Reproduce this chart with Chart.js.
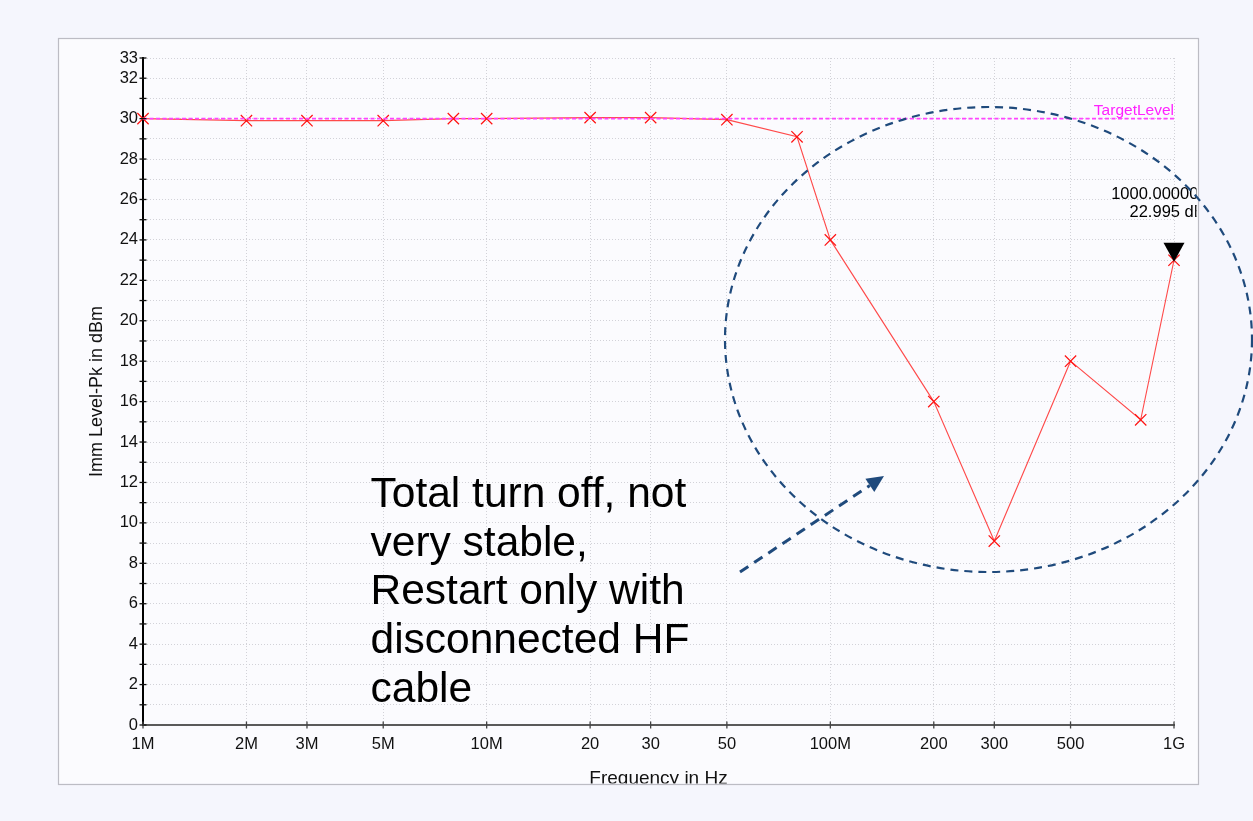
<!DOCTYPE html>
<html>
<head>
<meta charset="utf-8">
<script src="https://cdn.jsdelivr.net/npm/chart.js@4.4.1/dist/chart.umd.min.js"></script>
<style>
html,body{margin:0;padding:0;background:#f5f6fd;overflow:hidden}
canvas{display:block}
</style>
</head>
<body>
<canvas id="c" width="1253" height="821"></canvas>
<script>
// ---------------- data ----------------
const frequencies = [1e6, 2e6, 3e6, 5e6, 8e6, 10e6, 20e6, 30e6, 50e6, 80e6, 100e6, 200e6, 300e6, 500e6, 800e6, 1e9];
const levels      = [30.0, 29.9, 29.9, 29.9, 30.0, 30.0, 30.05, 30.05, 29.95, 29.1, 24.0, 16.0, 9.1, 18.0, 15.1, 22.995];
const targetFrequencies = [1e6, 1e9];
const targetLevels      = [30, 30];
const targetName = 'TargetLevel';
const markerFrequency = 1e9;
const markerLevel = 22.995;
const markerLines = ['1000.00000 MHz', '22.995 dBm'];
const xTickValues = [1e6, 2e6, 3e6, 5e6, 1e7, 2e7, 3e7, 5e7, 1e8, 2e8, 3e8, 5e8, 1e9];
const xTickLabels = ['1M', '2M', '3M', '5M', '10M', '20', '30', '50', '100M', '200', '300', '500', '1G'];
const yTickValues = [0,1,2,3,4,5,6,7,8,9,10,11,12,13,14,15,16,17,18,19,20,21,22,23,24,25,26,27,28,29,30,31,32,33];
const yTickLabels = ['0','','2','','4','','6','','8','','10','','12','','14','','16','','18','','20','','22','','24','','26','','28','','30','','32','33'];
const xTitle = 'Frequency in Hz';
const yTitle = 'Imm Level-Pk in dBm';
const noteLines = ['Total turn off, not', 'very stable,', 'Restart only with', 'disconnected HF', 'cable'];

// ---------------- styling ----------------
const FONT = '"Liberation Sans", Arial, Helvetica, sans-serif';
const PANEL = {left: 58, top: 38, right: 1198, bottom: 785};
const OUTER_BG = '#f5f6fd';
const PANEL_BG = '#fbfbfe';
const GRID = '#d2d2d8';
const NAVY = '#1f4a7c';

const slidePlugin = {
  id: 'slide',
  beforeDraw(chart) {
    const {ctx, width, height} = chart;
    ctx.save();
    ctx.fillStyle = OUTER_BG;
    ctx.fillRect(0, 0, width, height);
    ctx.fillStyle = PANEL_BG;
    ctx.fillRect(PANEL.left, PANEL.top, PANEL.right - PANEL.left, PANEL.bottom - PANEL.top);
    ctx.restore();
  },
  afterDatasetsDraw(chart) {
    const {ctx} = chart;
    const x = chart.scales.x, y = chart.scales.y;
    ctx.save();
    // crossing tick marks
    ctx.lineWidth = 1.3;
    ctx.strokeStyle = '#111';
    y.ticks.forEach(t => {
      const py = y.getPixelForValue(t.value);
      ctx.beginPath(); ctx.moveTo(x.left - 3.5, py); ctx.lineTo(x.left + 3.5, py); ctx.stroke();
    });
    ctx.strokeStyle = '#444';
    x.ticks.forEach(t => {
      const px = x.getPixelForValue(t.value);
      ctx.beginPath(); ctx.moveTo(px, y.bottom - 3.5); ctx.lineTo(px, y.bottom + 3.5); ctx.stroke();
    });
    // target label
    ctx.fillStyle = '#ff22ff';
    ctx.font = '15.5px ' + FONT;
    ctx.textAlign = 'right';
    ctx.textBaseline = 'alphabetic';
    ctx.fillText(targetName, x.getPixelForValue(targetFrequencies[1]), y.getPixelForValue(targetLevels[1]) - 4);
    // marker triangle
    const mx = x.getPixelForValue(markerFrequency), my = y.getPixelForValue(markerLevel);
    ctx.fillStyle = '#000';
    ctx.beginPath();
    ctx.moveTo(mx, my + 1.5);
    ctx.lineTo(mx - 10.5, my - 17.5);
    ctx.lineTo(mx + 10.5, my - 17.5);
    ctx.closePath();
    ctx.fill();
    // marker readout, clipped by the panel
    ctx.beginPath();
    ctx.rect(PANEL.left, PANEL.top, PANEL.right - PANEL.left - 1.5, PANEL.bottom - PANEL.top);
    ctx.clip();
    ctx.font = '16.5px ' + FONT;
    ctx.textAlign = 'center';
    ctx.fillText(markerLines[0], mx, my - 61.2);
    ctx.fillText(markerLines[1], mx, my - 43.2);
    ctx.restore();
  },
  afterDraw(chart) {
    const {ctx, width, height} = chart;
    ctx.save();
    // outer area below the panel (clips axis title)
    ctx.fillStyle = OUTER_BG;
    ctx.fillRect(0, PANEL.bottom - 1.5, width, height - PANEL.bottom + 1.5);
    // panel border
    ctx.strokeStyle = '#bcbcc4';
    ctx.lineWidth = 1.2;
    ctx.strokeRect(PANEL.left + 0.5, PANEL.top + 0.5, PANEL.right - PANEL.left, PANEL.bottom - PANEL.top - 1);
    // dashed ellipse
    ctx.strokeStyle = NAVY;
    ctx.lineWidth = 2.2;
    ctx.setLineDash([8, 6]);
    ctx.beginPath();
    ctx.ellipse(988.5, 339.5, 263.5, 232.5, 0, 0, Math.PI * 2);
    ctx.stroke();
    // dashed arrow
    const ax0 = 740, ay0 = 572, ax1 = 884, ay1 = 476;
    const ang = Math.atan2(ay1 - ay0, ax1 - ax0);
    const headLen = 17, headW = 8;
    const bx = ax1 - Math.cos(ang) * headLen, by = ay1 - Math.sin(ang) * headLen;
    ctx.lineWidth = 3;
    ctx.setLineDash([10, 7]);
    ctx.beginPath(); ctx.moveTo(ax0, ay0); ctx.lineTo(bx, by); ctx.stroke();
    ctx.setLineDash([]);
    ctx.fillStyle = NAVY;
    ctx.beginPath();
    ctx.moveTo(ax1, ay1);
    ctx.lineTo(bx + Math.sin(ang) * headW, by - Math.cos(ang) * headW);
    ctx.lineTo(bx - Math.sin(ang) * headW, by + Math.cos(ang) * headW);
    ctx.closePath();
    ctx.fill();
    // note text
    ctx.fillStyle = '#000';
    ctx.font = '42.5px ' + FONT;
    ctx.textAlign = 'left';
    ctx.textBaseline = 'alphabetic';
    noteLines.forEach((l, i) => ctx.fillText(l, 370.5, 506.7 + i * 48.8));
    ctx.restore();
  }
};

new Chart(document.getElementById('c'), {
  type: 'line',
  data: {
    datasets: [
      {
        label: targetName,
        data: targetFrequencies.map((f, i) => ({x: f, y: targetLevels[i]})),
        borderColor: '#ff44ff',
        borderWidth: 1.6,
        borderDash: [4, 2.5],
        pointRadius: 0,
        clip: false,
        order: 0
      },
      {
        label: 'Imm Level-Pk',
        data: frequencies.map((f, i) => ({x: f, y: levels[i]})),
        borderColor: '#ff4a4a',
        borderWidth: 1.1,
        pointStyle: 'crossRot',
        pointRadius: 8,
        pointBorderColor: '#ff1010',
        pointBorderWidth: 1.2,
        pointBackgroundColor: '#ff1010',
        tension: 0,
        clip: false,
        order: 1
      }
    ]
  },
  options: {
    responsive: false,
    animation: false,
    devicePixelRatio: 1,
    layout: {padding: {left: 0, right: 79, top: 58, bottom: 0}},
    plugins: {legend: {display: false}, tooltip: {enabled: false}},
    scales: {
      x: {
        type: 'logarithmic',
        min: xTickValues[0],
        max: xTickValues[xTickValues.length - 1],
        afterBuildTicks: s => { s.ticks = xTickValues.map(v => ({value: v})); },
        afterFit: s => { s.height = 96; },
        ticks: {
          autoSkip: false, maxRotation: 0, minRotation: 0, padding: 10,
          color: '#111', font: {family: FONT, size: 16.5},
          callback: (v, i) => xTickLabels[i]
        },
        grid: {color: GRID, lineWidth: 1, drawTicks: false},
        border: {display: true, color: '#5a5a5a', width: 2, dash: [1, 2]},
        title: {display: true, text: xTitle, color: '#111', font: {family: FONT, size: 19}, padding: {top: 0, bottom: 30.4}}
      },
      y: {
        type: 'linear',
        min: 0,
        max: 33,
        afterBuildTicks: s => { s.ticks = yTickValues.map(v => ({value: v})); },
        afterFit: s => { s.width = 143; },
        ticks: {
          autoSkip: false, padding: 5,
          color: '#111', font: {family: FONT, size: 16.5},
          callback: (v, i) => yTickLabels[i]
        },
        grid: {color: GRID, lineWidth: 1, drawTicks: false},
        border: {display: true, color: '#000', width: 2, dash: [1, 2]},
        title: {display: true, text: yTitle, color: '#111', font: {family: FONT, size: 18}, padding: {top: 86.2, bottom: 0}}
      }
    }
  },
  plugins: [slidePlugin]
});
</script>
</body>
</html>
